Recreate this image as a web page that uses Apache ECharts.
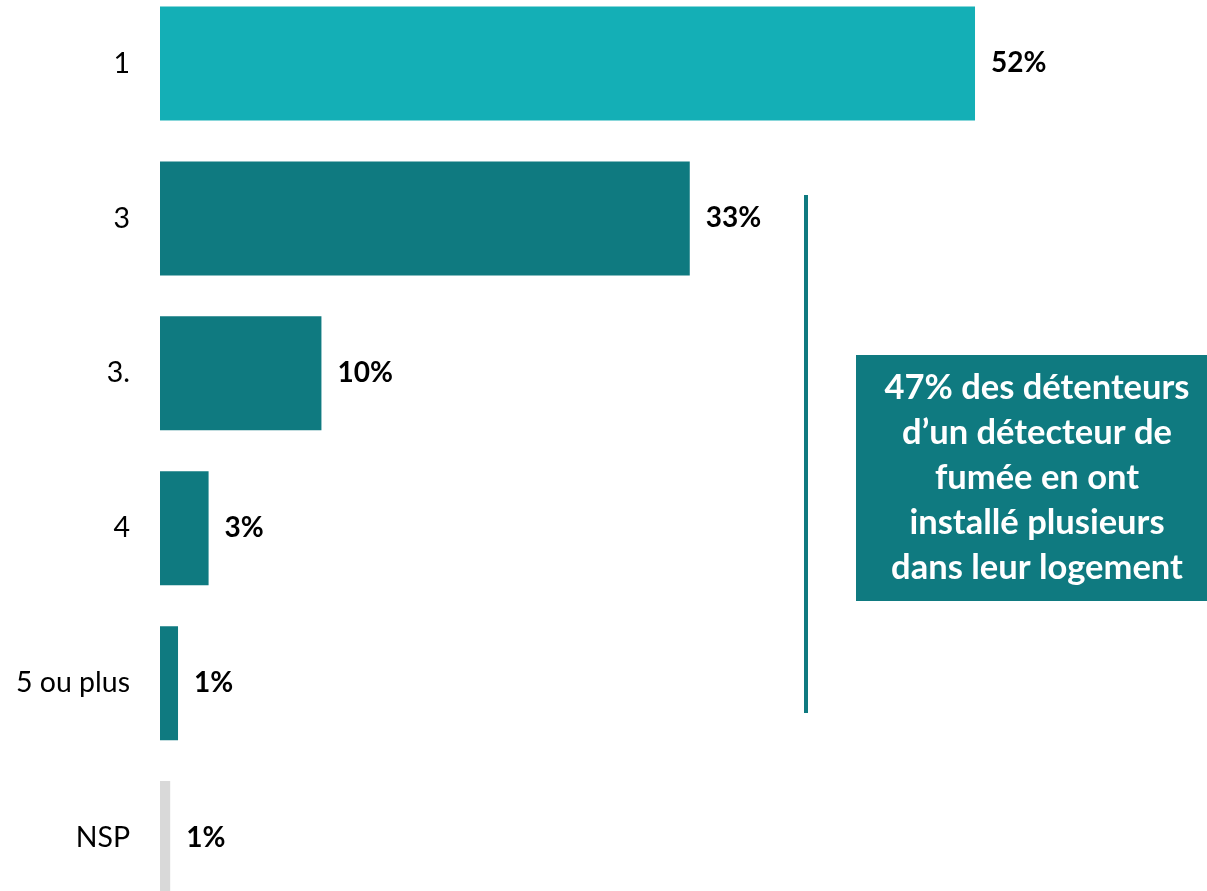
<!DOCTYPE html>
<html>
<head>
<meta charset="utf-8">
<script src="https://cdn.jsdelivr.net/npm/echarts@6/dist/echarts.min.js"></script>
<style>
html,body{margin:0;padding:0;background:#fff;overflow:hidden;width:1207px;height:891px;}
#chart{position:absolute;left:0;top:-14px;width:1207px;height:930px;}
</style>
</head>
<body>
<div id="chart"></div>
<script>
const categories = ['1', '3', '3.', '4', '5 ou plus', 'NSP'];
const values = [52, 33.8, 10.3, 3.1, 1.15, 0.65];
const valueLabels = ['52%', '33%', '10%', '3%', '1%', '1%'];
const barColors = ['#14AFB6', '#0F7A80', '#0F7A80', '#0F7A80', '#0F7A80', '#D9D9D9'];
const annotationText = "47% des détenteurs\nd’un détecteur de\nfumée en ont\ninstallé plusieurs\ndans leur logement";

const FONT = 'Lato';
const OFF = 14; // container offset
const chart = echarts.init(document.getElementById('chart'));
chart.setOption({
  animation: false,
  backgroundColor: '#ffffff',
  grid: { left: 160, width: 940.4, top: 0, height: 929.5, containLabel: false },
  xAxis: { type: 'value', min: 0, max: 60, show: false },
  yAxis: {
    type: 'category', data: categories, inverse: true,
    axisLine: { show: false }, axisTick: { show: false },
    axisLabel: { margin: 30, color: '#000', fontSize: 28.5, fontFamily: FONT }
  },
  series: [{
    type: 'bar',
    barWidth: 114,
    data: values.map((v, i) => ({ value: v, itemStyle: { color: barColors[i] } })),
    label: {
      show: true, position: 'right', distance: 16,
      formatter: p => valueLabels[p.dataIndex],
      color: '#000', fontSize: 28, fontWeight: 'bold', fontFamily: FONT
    }
  }],
  graphic: [
    { type: 'rect', shape: { x: 804, y: 195 + OFF, width: 4, height: 518 }, style: { fill: '#0F7A80' } },
    { type: 'rect', shape: { x: 856, y: 355 + OFF, width: 360, height: 246 }, style: { fill: '#0F7A80' } },
    { type: 'text', x: 1037, y: 478 + OFF, style: {
        text: annotationText, fill: '#fff', fontSize: 34.5, fontWeight: 'bold', fontFamily: FONT,
        align: 'center', verticalAlign: 'middle', lineHeight: 45
    } }
  ]
});
</script>
</body>
</html>
